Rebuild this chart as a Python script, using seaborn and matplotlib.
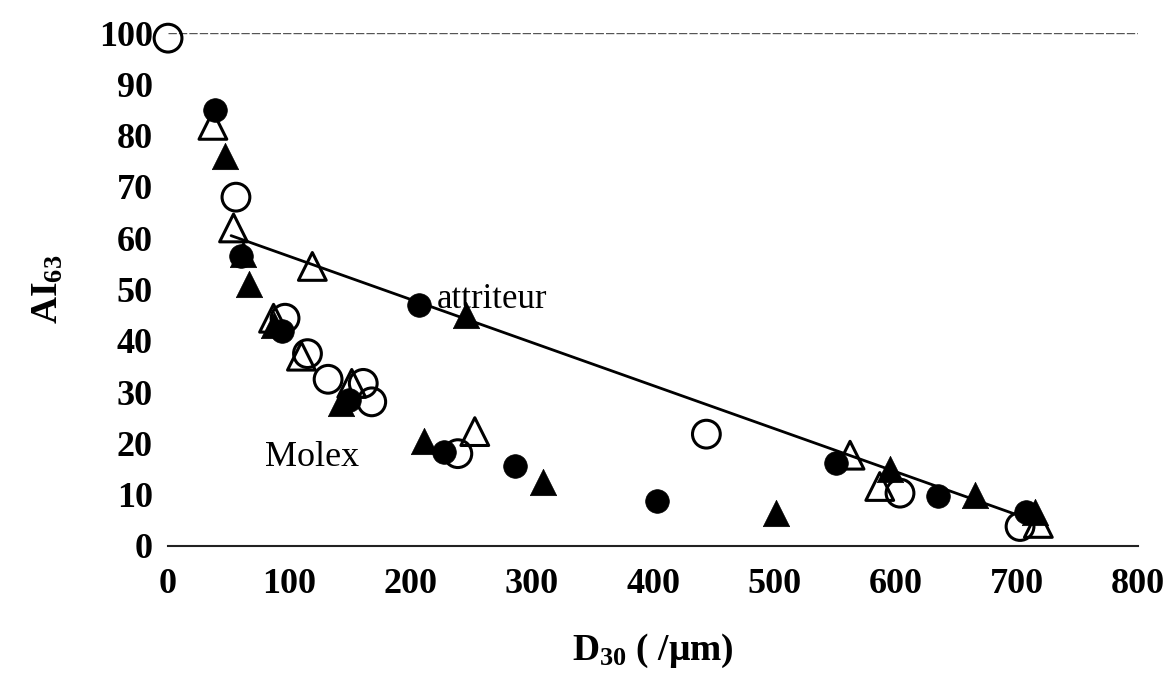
import matplotlib
matplotlib.use("Agg")
import matplotlib.pyplot as plt
import seaborn as sns
import pandas as pd

# values (D30 in um, AI63)
full_circle_x = [39, 60, 94, 149, 207, 228, 286, 403.5, 550.5, 635, 708]
full_circle_y = [85, 56.5, 42, 28.5, 47, 18.4, 15.5, 8.8, 16.2, 9.7, 6.7]

open_circle_x = [0, 56, 96.5, 115, 132, 161, 168, 239, 444, 603.7, 702.7]
open_circle_y = [99, 68, 44.4, 37.5, 32.5, 31.7, 28.1, 18, 21.8, 10.3, 3.8]

full_tri_x = [47, 62, 67, 87, 143, 211, 246, 309.5, 501.4, 595.5, 665.6, 715]
full_tri_y = [76, 57, 51, 43, 27.8, 20.5, 45, 12.5, 6.5, 15.1, 9.9, 6.7]

open_tri_x = [37, 54, 87, 110, 119, 151.5, 253, 562.5, 587, 717.8]
open_tri_y = [82, 62, 44.4, 37, 54.5, 31.7, 22.3, 17.7, 11.6, 4.4]

# "attriteur" trend line
line_x = [52, 713]
line_y = [60.5, 5]

x_ticks = [0, 100, 200, 300, 400, 500, 600, 700, 800]
y_ticks = [0, 10, 20, 30, 40, 50, 60, 70, 80, 90, 100]

sns.set_style("white")
plt.rcParams['font.family'] = ['Liberation Serif', 'DejaVu Serif']
plt.rcParams['text.color'] = 'black'
plt.rcParams['axes.labelcolor'] = 'black'
plt.rcParams['mathtext.fontset'] = 'custom'
plt.rcParams['mathtext.rm'] = 'Liberation Serif'
plt.rcParams['mathtext.bf'] = 'Liberation Serif:bold'
plt.rcParams['mathtext.default'] = 'bf'

fig = plt.figure(figsize=(11.76, 6.78), dpi=100)
ax = fig.add_axes([0.1429, 0.1947, 0.8248, 0.7566])

df_fc = pd.DataFrame({'x': full_circle_x, 'y': full_circle_y})
df_oc = pd.DataFrame({'x': open_circle_x, 'y': open_circle_y})
df_ft = pd.DataFrame({'x': full_tri_x, 'y': full_tri_y})
df_ot = pd.DataFrame({'x': open_tri_x, 'y': open_tri_y})

# line below the markers
sns.lineplot(x=line_x, y=line_y, ax=ax, color='black', linewidth=2.0, zorder=2)

sns.scatterplot(data=df_fc, x='x', y='y', ax=ax, marker='o', s=290,
                color='black', edgecolor='black', linewidth=0.5, zorder=3, clip_on=False)
sns.scatterplot(data=df_ft, x='x', y='y', ax=ax, marker='^', s=360,
                color='black', edgecolor='black', linewidth=0.5, zorder=3, clip_on=False)
sns.scatterplot(data=df_oc, x='x', y='y', ax=ax, marker='o', s=400,
                facecolor='none', edgecolor='black', linewidth=2.2, zorder=4, clip_on=False)
sns.scatterplot(data=df_ot, x='x', y='y', ax=ax, marker='^', s=400,
                facecolor='none', edgecolor='black', linewidth=2.2, zorder=4, clip_on=False)

ax.axhline(100, color='#555555', linewidth=1.0, linestyle=(0, (6, 1.5)), zorder=1)

ax.set_xlim(0, 800)
ax.set_ylim(0, 100)
ax.set_xticks(x_ticks)
ax.set_yticks(y_ticks)
ax.tick_params(axis='both', labelsize=26, direction='out', colors='#333333',
               labelcolor='black', length=3, width=1.2)
ax.tick_params(axis='x', pad=13)
ax.tick_params(axis='y', pad=8)
for lab in ax.get_xticklabels() + ax.get_yticklabels():
    lab.set_fontweight('bold')

for s in ['top', 'right', 'left']:
    ax.spines[s].set_visible(False)
ax.spines['bottom'].set_color('#222222')
ax.spines['bottom'].set_linewidth(1.5)

ax.text(222, 48, 'attriteur', fontsize=25, ha='left', va='center', color='black')
ax.text(80, 17.2, 'Molex', fontsize=26, ha='left', va='center', color='black')

ax.set_xlabel('D$_{30}$ ( /\u03bcm)', fontsize=27, fontweight='bold', labelpad=22)
ax.set_ylabel('AI$_{63}$', fontsize=27, fontweight='bold', labelpad=24)

fig.savefig('out.png', dpi=100)
